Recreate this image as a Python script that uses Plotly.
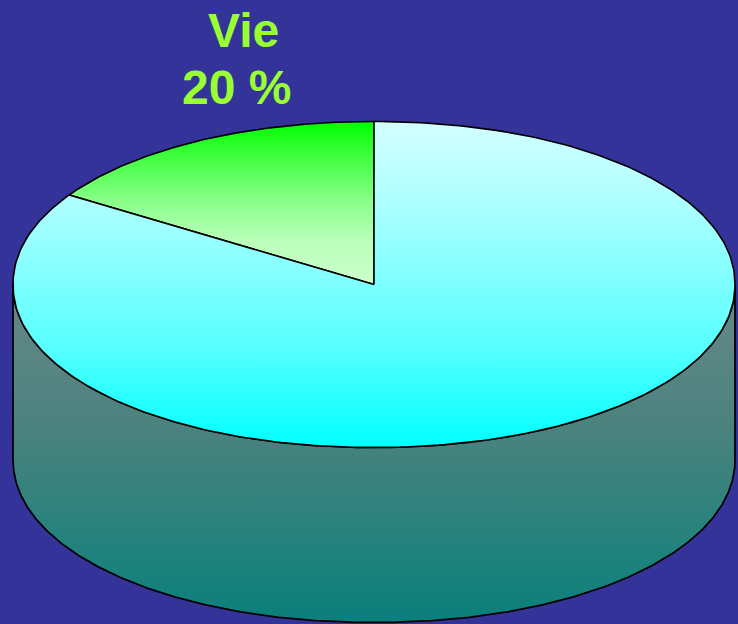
import numpy as np
import plotly.graph_objects as go

# Data
slice_names = ["Vie", "Autres"]
slice_shares = [15.9, 84.1]      # drawn share of the disc, in percent
label_lines = ["Vie", "20 %"]

# Colours
BG = "#333399"
LABEL = "#99FF33"

# Projection of the disc, in pixels of the 738x624 canvas
CX, CY, RX, RY, DEPTH, SUPER = 374.0, 284.5, 361.0, 163.0, 175.0, 2.05


def grad(y0, y1, stops):
    """Vertical gradient spec from (pixel row, colour) stops."""
    return dict(type="vertical", start=y0, stop=y1,
                colorscale=[[(y - y0) / (y1 - y0), c] for y, c in stops])


GREEN = grad(122, 284, [(122, "#00FF00"), (160, "#46FF46"), (200, "#87FF87"),
                        (240, "#B9FFB9"), (284, "#CDFFCD")])
CYAN = grad(122, 448, [(122, "#D2FFFF"), (200, "#AFFFFF"), (285, "#7DFFFF"),
                       (350, "#55FFFF"), (400, "#28FFFF"), (448, "#00FFFF")])
SIDE = grad(285, 622, [(285, "#668888"), (430, "#4B827E"), (560, "#1E827C"), (622, "#0A7F7B")])


def rim(a0, a1, n=300, dy=0.0):
    """Points on the rim; angle in degrees, clockwise from 12 o'clock."""
    t = np.radians(np.linspace(a0, a1, n))
    s, c = np.sin(t), np.cos(t)
    e = 2.0 / SUPER
    return (CX + RX * np.sign(s) * np.abs(s) ** e,
            CY - RY * np.sign(c) * np.abs(c) ** e + dy)


fig = go.Figure()

# Side wall
x1, y1 = rim(90, 270)
x2, y2 = rim(270, 90, dy=DEPTH)
fig.add_trace(go.Scatter(
    x=np.r_[x1, x2, x1[0]], y=np.r_[y1, y2, y1[0]],
    mode="lines", line=dict(color="black", width=1.75),
    fill="toself", fillgradient=SIDE,
    hoverinfo="skip", showlegend=False,
))

# Slices of the top face, starting at 12 o'clock and running anticlockwise
a_start = 0.0
for name, share, g in zip(slice_names, slice_shares, [GREEN, CYAN]):
    a_end = a_start - share * 3.6
    xr, yr = rim(a_start, a_end)
    fig.add_trace(go.Scatter(
        x=np.r_[CX, xr, CX], y=np.r_[CY, yr, CY],
        mode="lines", line=dict(color="black", width=1.6),
        fill="toself", fillgradient=g,
        name=name, hoverinfo="skip", showlegend=False,
    ))
    a_start = a_end

for text, x, y in zip(label_lines, [243.5, 236.5], [30, 87.5]):
    fig.add_annotation(
        x=x, y=y, xref="x", yref="y", showarrow=False, text=text,
        font=dict(family="Liberation Sans, Arial, sans-serif", size=48, color=LABEL, weight="bold"),
    )

fig.update_layout(
    width=738, height=624, autosize=False,
    margin=dict(l=0, r=0, t=0, b=0),
    paper_bgcolor=BG, plot_bgcolor=BG,
    xaxis=dict(range=[0, 738], visible=False, fixedrange=True),
    yaxis=dict(range=[624, 0], visible=False, fixedrange=True),
)
fig.write_html("out.html", config={"displayModeBar": False},
               post_script="document.body.style.margin='0';document.body.style.background='%s';" % BG)
